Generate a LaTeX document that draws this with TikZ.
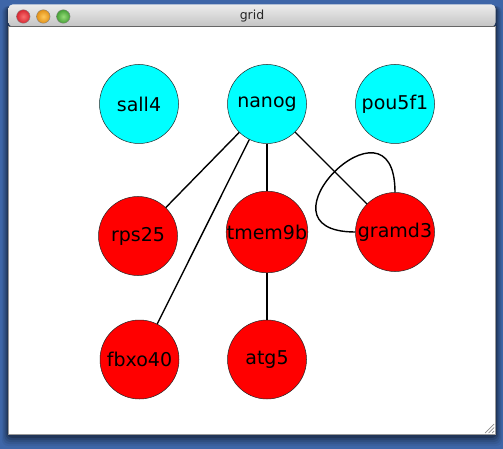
\documentclass[tikz,border=0pt]{standalone}
\usepackage{fontspec}
\setmainfont{DejaVu Sans}
\usetikzlibrary{shapes.geometric}
\definecolor{deskblue}{RGB}{62,102,168}
\definecolor{tbtop}{RGB}{236,236,236}
\definecolor{tbbot}{RGB}{196,196,196}
\definecolor{cyanfill}{RGB}{0,255,255}
\definecolor{redfill}{RGB}{255,0,0}
\definecolor{btnred}{RGB}{214,40,50}
\definecolor{btnredin}{RGB}{250,110,110}
\definecolor{btnorange}{RGB}{225,145,25}
\definecolor{btnorangein}{RGB}{255,200,90}
\definecolor{btngreen}{RGB}{70,160,55}
\definecolor{btngreenin}{RGB}{150,220,120}
\tikzset{
  vtx/.style={circle, draw=black!85, line width=0.5pt, minimum size=79pt, inner sep=0pt,
    font=\fontsize{19}{19}\selectfont},
  cyanvtx/.style={vtx, fill=cyanfill},
  redvtx/.style={vtx, fill=redfill},
  edge/.style={draw=black, line width=1.4pt},
  tlight/.style={circle, minimum size=13.5pt, inner sep=0pt, draw=black!50, line width=0.4pt, shade}
}
\begin{document}
\begin{tikzpicture}[x=1pt,y=-1pt]
\useasboundingbox (0,0) rectangle (503,449);
\fill[deskblue] (0,0) rectangle (503,449);
% shadow
\foreach \s/\o in {10/0.06,8/0.08,6/0.10,4/0.14,2/0.2}{
  \fill[black,opacity=\o,rounded corners=6] (8-\s*0.6,6) rectangle (496+\s*0.6,436+\s);
}
% window
\fill[white] (8.5,26) rectangle (495.5,434.5);
\shade[top color=tbtop, bottom color=tbbot, rounded corners=4]
  (8.5,4.5) -- (8.5,26.5) -- (495.5,26.5) -- (495.5,4.5) -- cycle;
\draw[black!60, line width=0.6pt] (8.5,26.5) -- (495.5,26.5);
\draw[black!40, line width=0.5pt] (8.5,26) -- (8.5,434.5) -- (495.5,434.5) -- (495.5,26);
\node[tlight, inner color=btnredin, outer color=btnred] (close) at (23.3,16.5) {};
\node[tlight, inner color=btnorangein, outer color=btnorange] (mini) at (43.3,16.5) {};
\node[tlight, inner color=btngreenin, outer color=btngreen] (zoom) at (63.3,16.5) {};
\node[font=\fontsize{12.5}{12.5}\selectfont, text=black!85] (title) at (252,16) {grid};
% resize grip
\foreach \y in {424,427.5,431}{
  \draw[black!45, line width=0.7pt] (494,\y) -- (494-433+\y,433);
}
% nodes
\node[cyanvtx] (sall4) at (139,104) {sall4};
\node[cyanvtx] (nanog) at (267,104) {nanog};
\node[cyanvtx] (pou5f1) at (395,104) {pou5f1};
\node[redvtx] (rps25) at (138,236) {rps25};
\node[redvtx] (tmem9b) at (267,232) {tmem9b};
\node[redvtx] (gramd3) at (395,232) {gramd3};
\node[redvtx] (fbxo40) at (139.5,359.5) {fbxo40};
\node[redvtx] (atg5) at (267,359.5) {atg5};
% edges
\draw[edge] (nanog) -- (rps25);
\draw[edge] (nanog) -- (fbxo40);
\draw[edge] (nanog) -- (tmem9b);
\draw[edge] (nanog) -- (gramd3);
\draw[edge] (tmem9b) -- (atg5);
\draw[edge] (gramd3.north) .. controls +(0,-108) and +(-108,0) .. (gramd3.west);
\end{tikzpicture}
\end{document}
